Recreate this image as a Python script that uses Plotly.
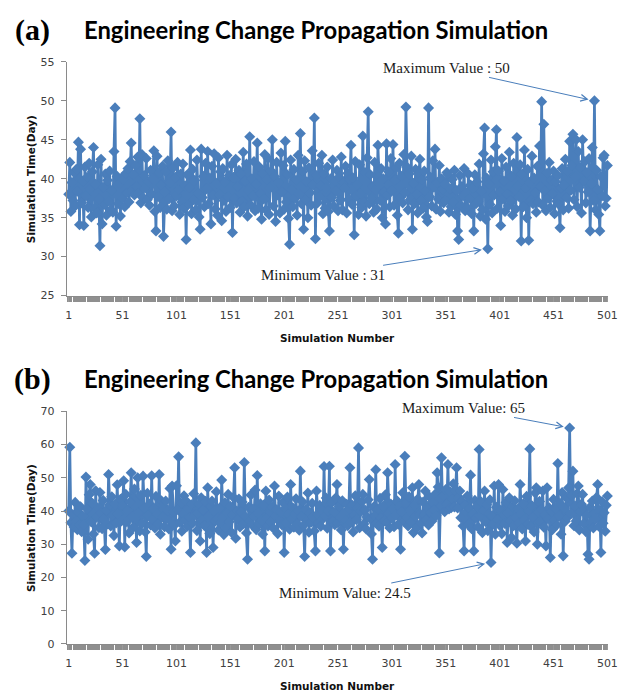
import plotly.graph_objects as go

# Simulation time (days) for each run of the change propagation simulation
sim_time_a = [
    38.0, 42.1, 35.8, 39.5, 37.2, 40.8, 36.5, 41.2, 38.4, 44.7,
    34.1, 43.8, 36.9, 39.7, 34.0, 41.5, 37.8, 40.2, 36.3, 42.0,
    38.7, 35.1, 40.9, 44.0, 36.2, 39.3, 35.6, 41.8, 37.4, 31.4,
    42.5, 34.2, 38.9, 36.7, 40.6, 35.3, 39.8, 37.1, 41.0, 36.0,
    38.5, 35.7, 43.5, 49.1, 33.9, 40.3, 36.8, 39.4, 35.2, 40.1,
    37.5, 39.9, 36.4, 40.7, 38.2, 41.3, 37.0, 42.2, 44.6, 38.6,
    40.5, 37.9, 41.7, 39.0, 42.8, 38.1, 47.7, 36.9, 43.1, 37.6,
    40.4, 38.8, 42.6, 37.3, 39.6, 36.6, 41.1, 38.0, 40.0, 43.6,
    35.8, 33.3, 42.9, 37.7, 40.8, 36.3, 39.2, 41.6, 32.6, 38.3,
    40.9, 36.1, 42.3, 37.4, 39.5, 46.0, 35.9, 41.4, 36.5, 40.2,
    37.8, 42.1, 38.6, 35.4, 40.6, 37.0, 41.9, 36.2, 39.1, 32.2,
    40.5, 36.7, 38.9, 43.7, 35.5, 41.2, 37.3, 39.8, 36.0, 42.4,
    38.2, 35.1, 33.5, 43.8, 37.6, 40.3, 36.4, 42.0, 38.7, 43.5,
    36.8, 40.1, 34.2, 41.6, 37.9, 43.2, 36.1, 39.4, 35.3, 42.7,
    38.0, 40.9, 34.6, 41.3, 37.2, 39.6, 35.8, 43.0, 37.7, 40.4,
    36.3, 41.8, 33.1, 40.2, 37.5, 42.5, 36.9, 39.0, 41.1, 35.7,
    40.6, 37.1, 43.4, 36.4, 39.7, 41.9, 35.2, 38.5, 45.4, 36.6,
    40.0, 37.8, 42.2, 35.9, 39.3, 44.6, 36.2, 41.5, 38.1, 34.8,
    40.7, 37.4, 43.1, 36.0, 39.9, 42.6, 35.4, 38.8, 41.0, 45.0,
    36.5, 40.3, 34.5, 42.1, 37.9, 39.5, 35.6, 43.3, 38.3, 41.7,
    36.1, 44.8, 37.0, 40.5, 34.9, 31.6, 42.4, 38.6, 36.4, 41.2,
    37.5, 39.8, 35.3, 43.0, 38.0, 45.8, 36.8, 40.9, 33.5, 42.3,
    37.3, 39.6, 35.0, 41.4, 38.2, 36.6, 43.6, 39.2, 47.8, 32.3,
    40.4, 36.9, 42.0, 37.7, 39.1, 43.0, 35.5, 40.6, 36.2, 38.8,
    41.5, 35.8, 33.3, 40.0, 37.6, 42.4, 36.5, 39.7, 38.4, 41.1,
    35.9, 40.2, 37.2, 42.8, 36.0, 39.5, 38.9, 41.6, 35.6, 40.7,
    37.4, 39.9, 44.3, 36.7, 40.1, 32.8, 42.2, 37.8, 39.3, 35.4,
    41.8, 38.1, 36.3, 45.5, 37.0, 40.8, 35.2, 42.7, 48.6, 36.8,
    40.5, 37.5, 39.0, 35.7, 42.1, 38.6, 36.1, 44.3, 39.4, 37.2,
    41.3, 35.0, 40.0, 38.3, 34.2, 44.5, 37.9, 40.9, 36.4, 42.6,
    38.5, 44.4, 36.6, 39.8, 41.4, 35.3, 33.0, 42.0, 37.6, 40.3,
    36.9, 43.1, 38.2, 49.2, 41.5, 36.0, 40.6, 37.3, 42.9, 33.5,
    39.4, 36.8, 41.2, 38.0, 35.6, 40.7, 42.5, 37.1, 39.9, 36.2,
    41.0, 38.4, 35.1, 34.5, 49.1, 37.7, 40.2, 36.5, 42.3, 38.9,
    43.8, 36.1, 39.5, 37.4, 41.7, 35.8, 40.0, 38.6, 36.9, 39.3,
    37.2, 40.8, 40.5, 35.7, 38.7, 36.4, 39.9, 37.0, 41.1, 35.4,
    38.5, 33.3, 32.2, 40.4, 36.6, 39.0, 37.8, 41.3, 35.9, 38.2,
    36.3, 40.6, 37.5, 39.2, 35.5, 38.8, 33.3, 40.5, 36.8, 39.6,
    37.1, 41.9, 35.2, 38.4, 36.0, 43.2, 46.5, 34.8, 40.1, 31.0,
    39.3, 36.7, 42.4, 35.6, 40.9, 37.9, 44.1, 46.3, 36.2, 41.0,
    38.3, 34.0, 42.6, 37.4, 39.7, 35.8, 41.5, 38.0, 36.5, 43.4,
    37.2, 40.3, 35.3, 42.0, 38.6, 36.1, 45.3, 39.1, 37.7, 41.8,
    32.0, 40.6, 36.4, 43.7, 38.9, 35.0, 41.2, 32.1, 39.5, 37.3,
    42.9, 36.8, 40.1, 38.2, 35.7, 41.6, 37.0, 44.2, 39.0, 49.9,
    36.6, 47.0, 38.4, 35.9, 40.7, 37.5, 42.1, 36.3, 39.8, 38.1,
    41.0, 35.5, 39.6, 37.1, 40.4, 36.7, 33.7, 38.8, 41.3, 36.0,
    39.2, 42.5, 37.6, 40.9, 36.2, 44.8, 38.5, 41.7, 45.7, 37.3,
    40.2, 45.0, 36.4, 43.5, 38.9, 41.4, 35.6, 45.0, 39.7, 42.2,
    36.9, 40.8, 38.3, 42.6, 33.3, 39.4, 44.0, 37.2, 50.0, 36.0,
    41.1, 38.6, 35.4, 33.3, 40.3, 37.8, 42.7, 43.0, 36.5, 37.5,
    41.7,
]

sim_time_b = [
    40.0, 59.2, 36.5, 27.3, 38.8, 35.2, 42.6, 37.1, 34.4, 39.7,
    36.0, 41.3, 33.8, 38.5, 35.9, 25.1, 50.2, 40.6, 31.5, 44.9,
    48.0, 36.7, 42.3, 33.1, 27.3, 46.1, 38.2, 40.9, 35.0, 45.6,
    39.4, 34.7, 43.2, 37.6, 28.4, 40.2, 36.1, 51.0, 41.8, 35.5,
    44.3, 38.9, 32.6, 42.0, 36.4, 47.9, 39.1, 29.5, 43.5, 37.0,
    41.7, 49.1, 29.2, 45.0, 36.8, 40.4, 33.4, 42.8, 51.5, 38.3,
    35.1, 46.6, 37.9, 30.5, 50.0, 39.6, 34.0, 44.7, 36.2, 50.5,
    41.0, 33.7, 26.3, 45.3, 38.6, 42.1, 35.8, 50.6, 37.4, 40.8,
    34.9, 44.4, 39.2, 36.0, 51.0, 33.0, 43.1, 38.1, 41.5, 35.3,
    43.0, 37.7, 40.1, 34.6, 46.8, 28.5, 47.5, 39.8, 35.7, 31.0,
    47.6, 40.5, 56.3, 36.6, 42.4, 33.9, 39.0, 44.6, 37.2, 43.0,
    35.4, 40.7, 38.0, 27.5, 41.9, 36.3, 45.2, 38.7, 60.5, 34.1,
    39.5, 42.0, 31.0, 44.0, 37.3, 40.3, 35.6, 42.9, 27.5, 47.0,
    38.4, 33.2, 41.6, 43.0, 29.0, 39.9, 36.9, 45.8, 37.8, 34.3,
    40.9, 36.5, 49.3, 38.1, 32.9, 42.5, 35.0, 39.3, 45.0, 36.8,
    41.4, 33.6, 38.8, 44.1, 53.0, 31.8, 40.0, 37.5, 43.6, 35.2,
    39.7, 42.7, 36.2, 54.6, 38.3, 33.4, 25.5, 41.1, 37.0, 44.8,
    35.9, 40.6, 38.6, 46.3, 34.4, 50.7, 39.4, 36.1, 42.2, 37.2,
    33.0, 41.8, 28.0, 46.0, 38.0, 35.5, 43.3, 39.8, 36.7, 41.2,
    34.8, 47.5, 38.5, 40.4, 33.2, 44.5, 37.1, 39.6, 35.8, 42.6,
    27.5, 40.8, 36.4, 44.2, 38.9, 34.5, 48.0, 37.6, 41.0, 35.1,
    39.2, 43.7, 36.0, 40.1, 34.2, 52.0, 38.4, 42.8, 35.7, 26.3,
    40.5, 37.3, 45.4, 33.6, 39.5, 36.6, 42.3, 38.2, 34.0, 28.0,
    46.0, 39.0, 36.3, 41.7, 35.4, 40.2, 37.7, 53.4, 38.6, 43.9,
    34.8, 40.0, 53.5, 28.0, 42.5, 37.0, 39.7, 35.9, 44.0, 48.0,
    36.5, 41.4, 38.1, 34.3, 43.1, 28.5, 39.4, 37.2, 42.0, 35.6,
    40.6, 53.0, 36.8, 41.8, 33.7, 38.7, 44.6, 37.4, 40.9, 59.0,
    35.0, 39.9, 42.7, 45.0, 36.1, 40.3, 34.6, 38.2, 43.4, 49.5,
    37.6, 33.1, 25.5, 41.2, 38.5, 52.4, 36.3, 40.7, 35.4, 43.8,
    38.0, 29.0, 41.5, 37.1, 44.9, 36.6, 51.5, 39.3, 34.9, 42.1,
    37.8, 40.5, 35.3, 54.0, 38.8, 43.0, 36.0, 41.3, 28.5, 39.7,
    45.5, 37.0, 56.5, 42.4, 38.3, 35.5, 44.3, 40.0, 36.7, 47.0,
    33.5, 41.6, 38.4, 35.0, 43.6, 48.0, 39.2, 36.4, 33.4, 42.7,
    38.9, 46.0, 37.3, 41.0, 35.8, 44.2, 39.5, 36.9, 42.5, 40.3,
    45.0, 38.6, 51.5, 47.2, 27.4, 43.8, 56.0, 41.5, 44.7, 39.8,
    46.5, 42.0, 54.0, 40.6, 45.8, 41.0, 43.5, 48.2, 41.2, 46.0,
    53.0, 40.9, 44.1, 46.0, 38.0, 43.0, 35.5, 28.0, 41.7, 37.2,
    44.5, 36.0, 40.8, 50.8, 34.7, 39.1, 28.0, 43.2, 37.9, 41.4,
    35.2, 58.5, 38.4, 42.7, 33.5, 40.1, 46.0, 36.8, 41.9, 34.1,
    39.0, 43.4, 24.5, 38.6, 36.0, 47.5, 33.0, 41.1, 37.4, 48.0,
    35.7, 40.2, 33.2, 46.5, 38.9, 36.2, 42.6, 30.5, 39.4, 44.0,
    37.0, 32.0, 41.3, 35.6, 43.1, 38.0, 30.3, 40.7, 36.4, 48.0,
    39.1, 34.6, 42.2, 37.5, 31.0, 44.4, 36.1, 40.0, 58.7, 35.3,
    41.6, 38.2, 33.7, 45.4, 47.0, 30.0, 39.6, 42.9, 36.6, 40.4,
    46.0, 35.1, 38.7, 29.5, 47.0, 37.7, 41.0, 26.0, 39.9, 34.4,
    43.5, 37.3, 40.6, 35.8, 54.3, 38.5, 42.3, 33.0, 45.6, 26.5,
    40.8, 36.9, 43.9, 38.1, 47.0, 65.0, 39.2, 44.6, 52.0, 35.6,
    41.5, 37.0, 45.3, 47.5, 34.3, 39.8, 42.0, 45.0, 36.2, 40.5,
    33.8, 38.9, 27.0, 25.5, 41.2, 36.7, 43.0, 34.9, 39.3, 37.6,
    44.1, 48.0, 35.4, 40.2, 27.5, 42.8, 36.3, 39.5, 33.9, 41.7,
    44.5,
]

sim_number_a = list(range(1, len(sim_time_a) + 1))
sim_number_b = list(range(1, len(sim_time_b) + 1))

panel_labels = ["(a)", "(b)"]
chart_title = "Engineering Change Propagation Simulation"
x_title = "Simulation Number"
y_title = "Simulation Time(Day)"
y_ranges = [(25, 55, 5), (0, 70, 10)]

W, H = 637, 700
BLUE = "#4A7EBB"
AXIS_GREY = "#8a8a8a"
TICK_FONT = dict(family="DejaVu Sans", size=11, color="#404040")
TITLE_FONT = dict(family="DejaVu Sans", size=10.5, color="#111111", weight="bold")
NOTE_FONT = dict(family="Liberation Serif", size=15, color="#1a1a1a")

# plot-area geometry in pixels (left, right, top, bottom) for each panel
panels = [
    dict(left=66, right=618, top=57, bottom=295),
    dict(left=66, right=618, top=413, bottom=650),
]

fig = go.Figure()

series = [(sim_number_a, sim_time_a), (sim_number_b, sim_time_b)]
for k, (xs, ys) in enumerate(series):
    ax_id = "" if k == 0 else str(k + 1)
    fig.add_trace(go.Scatter(
        x=xs, y=ys, mode="lines+markers",
        line=dict(color=BLUE, width=2.7),
        marker=dict(symbol="diamond", size=8.5, color=BLUE),
        xaxis="x" + ax_id, yaxis="y" + ax_id,
        cliponaxis=False, showlegend=False, hoverinfo="x+y",
    ))

    p = panels[k]
    px_per_run = (617 - 68) / 500.0
    x0 = 1 - (68 - p["left"]) / px_per_run
    x1 = 501 + (p["right"] - 617) / px_per_run
    lo, hi, step = y_ranges[k]

    fig.update_layout(**{
        "xaxis" + ax_id: dict(
            domain=[p["left"] / W, p["right"] / W],
            anchor="y" + ax_id,
            range=[x0, x1],
            tickmode="linear", tick0=1, dtick=50,
            ticks="outside", ticklen=5, tickwidth=1, tickcolor="#9a9a9a",
            minor=dict(tickmode="linear", tick0=1, dtick=1, ticks="outside",
                       ticklen=5, tickwidth=1, tickcolor="#8f8f8f"),
            showline=True, linecolor=AXIS_GREY, linewidth=1,
            showgrid=False, zeroline=False,
            tickfont=TICK_FONT, ticklabelstandoff=4,
        ),
        "yaxis" + ax_id: dict(
            domain=[(H - p["bottom"]) / H, (H - p["top"]) / H],
            anchor="x" + ax_id,
            range=[lo, hi], tickmode="linear", tick0=lo, dtick=step,
            ticks="outside", ticklen=5, tickcolor=AXIS_GREY,
            showline=True, linecolor=AXIS_GREY, linewidth=1,
            showgrid=False, zeroline=False,
            tickfont=TICK_FONT, ticklabelstandoff=4,
        ),
    })

annotations = []
title_y = [24, 380]
for k in range(2):
    p = panels[k]
    annotations.append(dict(
        text=panel_labels[k], x=31 / W, y=(H - title_y[k]) / H,
        xref="paper", yref="paper", showarrow=False,
        xanchor="center", yanchor="middle",
        font=dict(family="Liberation Serif", size=30, color="#000000", weight="bold"),
    ))
    annotations.append(dict(
        text=chart_title, x=320 / W, y=(H - title_y[k]) / H,
        xref="paper", yref="paper", showarrow=False,
        xanchor="center", yanchor="middle",
        font=dict(family="Lato", size=23.8, color="#000000", weight="bold"),
    ))
    annotations.append(dict(
        text=x_title, x=(p["left"] + p["right"]) / 2 / W,
        y=(H - (p["bottom"] + 43)) / H,
        xref="paper", yref="paper", showarrow=False,
        xanchor="center", yanchor="middle", font=TITLE_FONT,
    ))
    annotations.append(dict(
        text=y_title, x=29 / W, y=(H - (p["top"] + p["bottom"]) / 2) / H,
        xref="paper", yref="paper", showarrow=False, textangle=-90,
        xanchor="center", yanchor="middle", font=TITLE_FONT,
    ))

# call-outs for the extreme values of each run set
def extreme_note(xs, ys, which, label, ax_id, ax, ay):
    v = max(ys) if which == "max" else min(ys)
    i = ys.index(v)
    return dict(
        text=f"{label}{v:g}", x=xs[i], y=v,
        xref="x" + ax_id, yref="y" + ax_id,
        showarrow=True, ax=ax, ay=ay, axref="pixel", ayref="pixel",
        arrowhead=5, arrowsize=1.3, arrowwidth=1, arrowcolor=BLUE,
        standoff=6, font=NOTE_FONT,
    )

annotations.append(extreme_note(sim_number_a, sim_time_a, "max", "Maximum Value : ", "", -148, -33))
annotations.append(extreme_note(sim_number_a, sim_time_a, "min", "Minimum Value : ", "", -165, 26))
annotations.append(extreme_note(sim_number_b, sim_time_b, "max", "Maximum Value: ", "2", -106, -20))
annotations.append(extreme_note(sim_number_b, sim_time_b, "min", "Minimum Value: ", "2", -146, 30))

fig.update_layout(
    width=W, height=H,
    margin=dict(l=0, r=0, t=0, b=0),
    paper_bgcolor="white", plot_bgcolor="white",
    annotations=annotations,
)

fig.write_html("out.html")
